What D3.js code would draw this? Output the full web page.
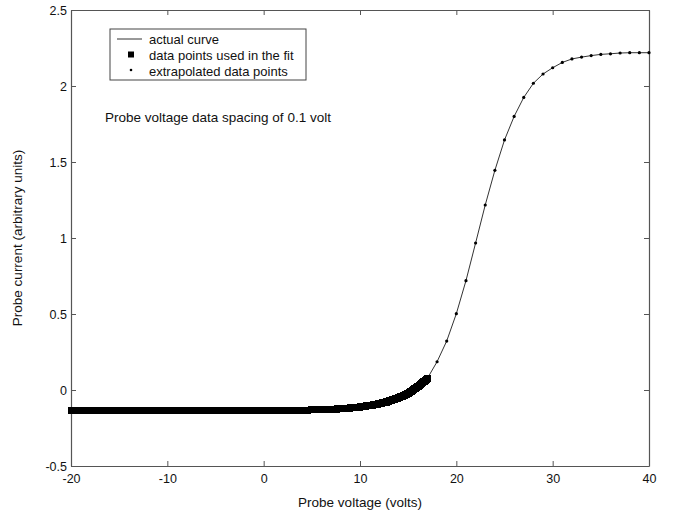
<!DOCTYPE html>
<html>
<head>
<meta charset="utf-8">
<script src="https://cdn.jsdelivr.net/npm/d3@7"></script>
<style>
    body { margin: 0; background: #fff; }
    text { font-family: "Liberation Sans", Arial, sans-serif; fill: #111; }
</style>
</head>
<body>
<svg id="chart"></svg>
<script>
// data points used in the fit
// (0.5 V steps on the flat part, 0.1 V steps where the curve rises)
const fitVoltage = [
    -20, -19.5, -19, -18.5, -18, -17.5, -17, -16.5, -16, -15.5,
    -15, -14.5, -14, -13.5, -13, -12.5, -12, -11.5, -11, -10.5,
    -10, -9.5, -9, -8.5, -8, -7.5, -7, -6.5, -6, -5.5,
    -5, -4.5, -4, -3.5, -3, -2.5, -2, -1.5, -1, -0.5,
    0, 0.5, 1, 1.5, 2, 2.5, 3, 3.5, 4, 4.5,
    5, 5.5, 6, 6.5, 7,
    7.5, 7.6, 7.7, 7.8, 7.9, 8.0, 8.1, 8.2, 8.3, 8.4,
    8.5, 8.6, 8.7, 8.8, 8.9, 9.0, 9.1, 9.2, 9.3, 9.4,
    9.5, 9.6, 9.7, 9.8, 9.9, 10.0, 10.1, 10.2, 10.3, 10.4,
    10.5, 10.6, 10.7, 10.8, 10.9, 11.0, 11.1, 11.2, 11.3, 11.4,
    11.5, 11.6, 11.7, 11.8, 11.9, 12.0, 12.1, 12.2, 12.3, 12.4,
    12.5, 12.6, 12.7, 12.8, 12.9, 13.0, 13.1, 13.2, 13.3, 13.4,
    13.5, 13.6, 13.7, 13.8, 13.9, 14.0, 14.1, 14.2, 14.3, 14.4,
    14.5, 14.6, 14.7, 14.8, 14.9, 15.0, 15.1, 15.2, 15.3, 15.4,
    15.5, 15.6, 15.7, 15.8, 15.9, 16.0, 16.1, 16.2, 16.3, 16.4,
    16.5, 16.6, 16.7, 16.8, 16.9, 17.0
];
const fitCurrent = [
    -0.138, -0.138, -0.138, -0.138, -0.138, -0.138, -0.138, -0.138, -0.138, -0.138,
    -0.138, -0.138, -0.138, -0.138, -0.138, -0.138, -0.138, -0.138, -0.138, -0.138,
    -0.137, -0.137, -0.137, -0.137, -0.137, -0.137, -0.137, -0.137, -0.137, -0.137,
    -0.137, -0.137, -0.137, -0.137, -0.137, -0.137, -0.137, -0.137, -0.137, -0.137,
    -0.136, -0.136, -0.135, -0.135, -0.135, -0.134, -0.134, -0.133, -0.133, -0.132,
    -0.131, -0.130, -0.129, -0.128, -0.127,
    -0.125, -0.125, -0.124, -0.124, -0.123, -0.123, -0.123, -0.122, -0.122, -0.121,
    -0.121, -0.120, -0.120, -0.119, -0.119, -0.118, -0.117, -0.117, -0.116, -0.116,
    -0.115, -0.114, -0.114, -0.113, -0.112, -0.111, -0.111, -0.110, -0.109, -0.108,
    -0.107, -0.106, -0.105, -0.104, -0.103, -0.102, -0.101, -0.100, -0.099, -0.098,
    -0.097, -0.095, -0.094, -0.093, -0.091, -0.090, -0.088, -0.087, -0.085, -0.084,
    -0.082, -0.081, -0.079, -0.077, -0.075, -0.073, -0.071, -0.069, -0.067, -0.065,
    -0.063, -0.061, -0.058, -0.056, -0.053, -0.051, -0.048, -0.045, -0.043, -0.040,
    -0.037, -0.033, -0.030, -0.027, -0.024, -0.020, -0.016, -0.013, -0.009, -0.005,
    -0.001, 0.003, 0.008, 0.012, 0.017, 0.021, 0.026, 0.031, 0.036, 0.042,
    0.047, 0.053, 0.059, 0.065, 0.071, 0.077
];

// extrapolated data points (1 V steps)
const extVoltage = [18, 19, 20, 21, 22, 23, 24, 25, 26, 27, 28, 29, 30, 31, 32, 33, 34, 35, 36, 37, 38, 39, 40];
const extCurrent = [0.186, 0.322, 0.502, 0.719, 0.967, 1.217, 1.445, 1.645, 1.800, 1.925, 2.018, 2.079,
    2.120, 2.155, 2.178, 2.190, 2.200, 2.208, 2.212, 2.217, 2.219, 2.219, 2.219];

const xTicks = [-20, -10, 0, 10, 20, 30, 40];
const yTicks = [-0.5, 0, 0.5, 1, 1.5, 2, 2.5];
const legendLabels = ['actual curve', 'data points used in the fit', 'extrapolated data points'];

const width = 675, height = 516;
const margin = { top: 10, right: 26, bottom: 50, left: 71 };
const innerW = width - margin.left - margin.right;
const innerH = height - margin.top - margin.bottom;

const svg = d3.select('#chart')
    .attr('width', width)
    .attr('height', height);

const chart = svg.append('g')
    .attr('transform', `translate(${margin.left},${margin.top})`);

const xScale = d3.scaleLinear().domain([-20, 40]).range([0, innerW]);
const yScale = d3.scaleLinear().domain([-0.5, 2.5]).range([innerH, 0]);

const fitData = fitVoltage.map((v, i) => ({ v: v, c: fitCurrent[i] }));
const extData = extVoltage.map((v, i) => ({ v: v, c: extCurrent[i] }));
const allData = fitData.concat(extData);

const axisColor = '#555';

// inward ticks on all four sides, matlab style; plain hyphen for minus
const xAxisB = d3.axisBottom(xScale).tickValues(xTicks).tickSizeInner(-5).tickSizeOuter(0).tickPadding(8).tickFormat(d => String(d));
const xAxisT = d3.axisTop(xScale).tickValues(xTicks).tickSizeInner(-5).tickSizeOuter(0).tickFormat('');
const yAxisL = d3.axisLeft(yScale).tickValues(yTicks).tickSizeInner(-5).tickSizeOuter(0).tickPadding(4).tickFormat(d => String(d));
const yAxisR = d3.axisRight(yScale).tickValues(yTicks).tickSizeInner(-5).tickSizeOuter(0).tickFormat('');

chart.append('g').attr('class', 'axis').attr('transform', `translate(0,${innerH})`).call(xAxisB);
chart.append('g').attr('class', 'axis').call(xAxisT);
chart.append('g').attr('class', 'axis').call(yAxisL);
chart.append('g').attr('class', 'axis').attr('transform', `translate(${innerW},0)`).call(yAxisR);

chart.selectAll('.axis path').attr('stroke', axisColor).attr('stroke-width', 1.2);
chart.selectAll('.axis line').attr('stroke', axisColor);
chart.selectAll('.axis text')
    .attr('font-size', 12.5)
    .attr('font-family', '"Liberation Sans", Arial, sans-serif')
    .attr('fill', '#111');

// actual curve
const line = d3.line().x(d => xScale(d.v)).y(d => yScale(d.c));
chart.append('path')
    .datum(allData)
    .attr('fill', 'none')
    .attr('stroke', '#333')
    .attr('stroke-width', 1)
    .attr('d', line);

// fit points: filled squares, so dense they merge into a band
const sq = 7;
chart.selectAll('.fit')
    .data(fitData)
    .join('rect')
    .attr('class', 'fit')
    .attr('x', d => xScale(d.v) - sq / 2)
    .attr('y', d => yScale(d.c) - sq / 2)
    .attr('width', sq)
    .attr('height', sq)
    .attr('shape-rendering', 'crispEdges')
    .attr('fill', '#000');

// extrapolated points: small dots
chart.selectAll('.ext')
    .data(extData)
    .join('circle')
    .attr('class', 'ext')
    .attr('cx', d => xScale(d.v))
    .attr('cy', d => yScale(d.c))
    .attr('r', 1.6)
    .attr('fill', '#000');

// legend
const legend = svg.append('g').attr('transform', 'translate(110,29)');
legend.append('rect')
    .attr('width', 196)
    .attr('height', 51)
    .attr('fill', '#fff')
    .attr('stroke', '#444')
    .attr('stroke-width', 1);
legend.append('line')
    .attr('x1', 7).attr('x2', 32)
    .attr('y1', 10).attr('y2', 10)
    .attr('stroke', '#333');
legend.append('rect')
    .attr('x', 18).attr('y', 22.5)
    .attr('width', 6).attr('height', 6)
    .attr('fill', '#000');
legend.append('circle')
    .attr('cx', 21).attr('cy', 41)
    .attr('r', 1.3)
    .attr('fill', '#000');
legend.selectAll('.leg-label')
    .data(legendLabels)
    .join('text')
    .attr('class', 'leg-label')
    .attr('x', 39)
    .attr('y', (d, i) => 14.5 + i * 16)
    .attr('font-size', 13)
    .text(d => d);

// annotation
svg.append('text')
    .attr('x', 105)
    .attr('y', 122)
    .attr('font-size', 13.5)
    .text('Probe voltage data spacing of 0.1 volt');

// axis titles
svg.append('text')
    .attr('x', margin.left + innerW / 2)
    .attr('y', 507)
    .attr('text-anchor', 'middle')
    .attr('font-size', 13.5)
    .text('Probe voltage (volts)');

svg.append('text')
    .attr('transform', `translate(22,${margin.top + innerH / 2}) rotate(-90)`)
    .attr('text-anchor', 'middle')
    .attr('font-size', 13.5)
    .text('Probe current (arbitrary units)');
</script>
</body>
</html>
